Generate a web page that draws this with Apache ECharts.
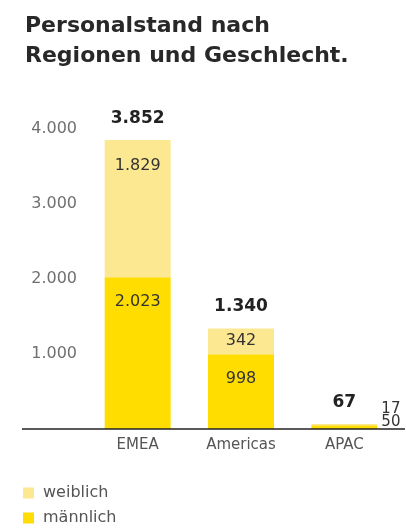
<!DOCTYPE html>
<html><head><meta charset="utf-8">
<script src="https://cdn.jsdelivr.net/npm/echarts@6/dist/echarts.min.js"></script>
<style>html,body{margin:0;padding:0;background:#fff}#c{width:406px;height:530px}</style>
</head><body><div id="c"></div>
<script>
const categories = ['EMEA', 'Americas', 'APAC'];
const maennlich = [2023, 998, 50];
const weiblich = [1829, 342, 17];
const totals = [3852, 1340, 67];
const yTicks = [0, 1000, 2000, 3000, 4000];

function de(v){ return String(v).replace(/\B(?=(\d{3})+(?!\d))/g, '.'); }
const FONT = '"DejaVu Sans", sans-serif';
const chart = echarts.init(document.getElementById('c'));

const mData = maennlich.map((v,i)=>{
  if (i===2) return {value:v, label:{position:'right', distance:0, offset:[4,-5], fontSize:15}};
  return {value:v};
});
const wData = weiblich.map((v,i)=>{
  if (i===2) return {value:v, label:{position:'right', distance:0, offset:[4,-16], fontSize:15}};
  if (i===1) return {value:v, label:{position:'inside'}};
  return {value:v};
});

const legendBase = {left:23, itemWidth:11, itemHeight:11, icon:'rect', padding:0,
  textStyle:{fontFamily:FONT, fontSize:16, color:'#555', padding:[0,0,0,4]}, itemStyle:{borderWidth:0}};

chart.setOption({
  animation:false,
  title:{text:'Personalstand nach\nRegionen und Geschlecht.', left:20, top:6,
    textStyle:{fontFamily:FONT, fontSize:22, fontWeight:'bold', color:'#282828', lineHeight:30}},
  legend:[
    Object.assign({data:['weiblich'], top:485}, legendBase),
    Object.assign({data:['männlich'], top:510}, legendBase)
  ],
  grid:{left:86, right:10, top:129, bottom:101},
  xAxis:{type:'category', data:categories, axisLine:{show:false}, axisTick:{show:false},
    axisLabel:{fontFamily:FONT, fontSize:15, color:'#555', margin:9}},
  yAxis:{type:'value', min:yTicks[0], max:yTicks[yTicks.length-1], interval:1000, splitLine:{show:false},
    axisLabel:{fontFamily:FONT, fontSize:16, color:'#707070', margin:9, formatter:v=>v===0?'':de(v)}},
  graphic:[{type:'line', shape:{x1:22, y1:429, x2:405, y2:429}, style:{stroke:'#222', lineWidth:1.5}, z:100}],
  series:[
    {name:'männlich', type:'bar', stack:'s', barWidth:66, data:mData, itemStyle:{color:'#FFDD00'},
      label:{show:true, position:'insideTop', distance:17, fontFamily:FONT, fontSize:16, color:'#333', formatter:p=>de(p.value)}},
    {name:'weiblich', type:'bar', stack:'s', barWidth:66, data:wData, itemStyle:{color:'#FDE892'},
      label:{show:true, position:'insideTop', distance:18, fontFamily:FONT, fontSize:16, color:'#333', formatter:p=>de(p.value)}},
    {name:'total', type:'bar', barGap:'-100%', barWidth:66, data:totals, itemStyle:{color:'rgba(0,0,0,0)'}, z:0,
      label:{show:true, position:'top', distance:13, fontFamily:FONT, fontSize:17, fontWeight:'bold', color:'#222', formatter:p=>de(p.value)}}
  ]
});
</script></body></html>
